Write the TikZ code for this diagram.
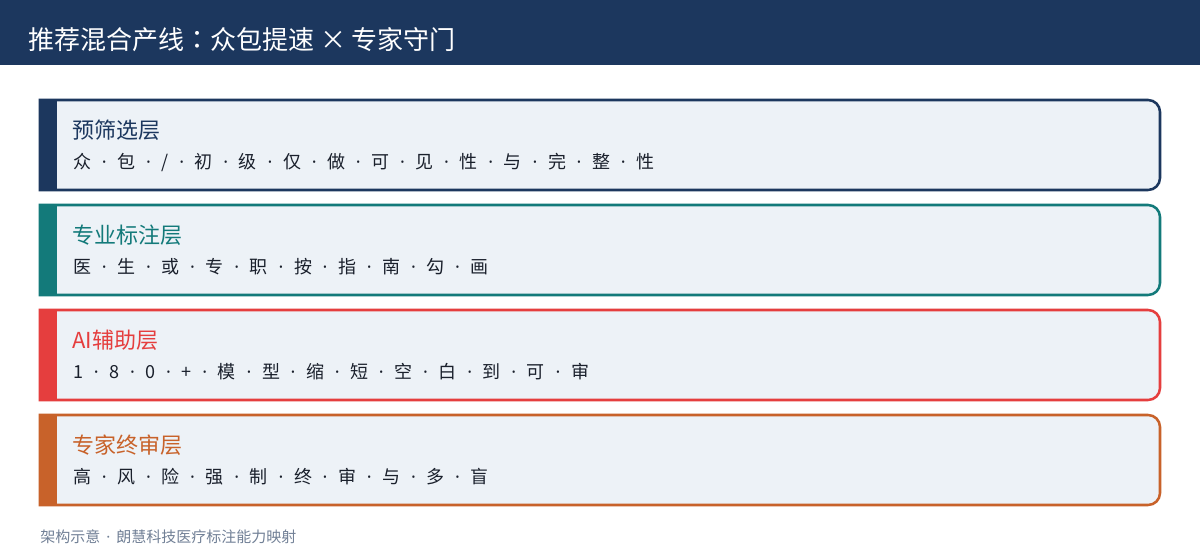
\documentclass[tikz,border=0pt]{standalone}
\usepackage{fontspec}
\setmainfont{Noto Sans CJK SC}
\newfontfamily\latinf{Noto Sans}
\newfontfamily\jpf{Noto Sans CJK JP}
\definecolor{navy}{HTML}{1C375E}
\definecolor{teal}{HTML}{137A7A}
\definecolor{redc}{HTML}{E53E3E}
\definecolor{orangec}{HTML}{C8622A}
\definecolor{boxfill}{HTML}{EDF2F7}
\definecolor{bodytext}{HTML}{1A202C}
\definecolor{foot}{HTML}{718096}
\newcommand\sd{\hspace{8pt}{\latinf ·}\hspace{8pt}}
\tikzset{
  layerhead/.style={anchor=west,inner sep=0pt,font=\fontsize{16.5pt}{18pt}\selectfont},
  layerbody/.style={anchor=west,inner sep=0pt,text=bodytext,font=\fontsize{13.5pt}{15pt}\selectfont},
  layerbox/.style={line width=1.9pt,fill=boxfill,draw=#1},
}
\newcommand\layer[2]{% #1 top y (y-up), #2 colour
  \draw[layerbox=#2] (40,#1) -- (1148,#1) arc(90:0:12) -- (1160,#1-78) arc(0:-90:12) -- (40,#1-90) -- cycle;
  \fill[#2] (40,#1+1.25) rectangle (57,#1-91.25);
}
\begin{document}
\begin{tikzpicture}[x=0.75pt,y=0.75pt]
\useasboundingbox (0,0) rectangle (1200,560);
\fill[white] (0,0) rectangle (1200,560);
\fill[navy] (0,495) rectangle (1200,560);
\node[anchor=west,inner sep=0pt,text=white,font=\fontsize{19.5pt}{22pt}\selectfont] (title) at (28,520) {推荐混合产线{\jpf ：}众包提速 × 专家守门};

\layer{460}{navy}
\node[layerhead,text=navy] (h1) at (72,430) {预筛选层};
\node[layerbody] (b1) at (73,398) {众\sd 包\sd /\sd 初\sd 级\sd 仅\sd 做\sd 可\sd 见\sd 性\sd 与\sd 完\sd 整\sd 性};

\layer{355}{teal}
\node[layerhead,text=teal] (h2) at (72,325) {专业标注层};
\node[layerbody] (b2) at (73,293) {医\sd 生\sd 或\sd 专\sd 职\sd 按\sd 指\sd 南\sd 勾\sd 画};

\layer{250}{redc}
\node[layerhead,text=redc] (h3) at (72,220) {AI辅助层};
\node[layerbody] (b3) at (73,188) {1\sd 8\sd 0\sd +\sd 模\sd 型\sd 缩\sd 短\sd 空\sd 白\sd 到\sd 可\sd 审};

\layer{145}{orangec}
\node[layerhead,text=orangec] (h4) at (72,115) {专家终审层};
\node[layerbody] (b4) at (73,83) {高\sd 风\sd 险\sd 强\sd 制\sd 终\sd 审\sd 与\sd 多\sd 盲};

\node[anchor=west,inner sep=0pt,text=foot,font=\fontsize{11.25pt}{13pt}\selectfont] (footer) at (40,23) {架构示意\hspace{4.5pt}{\latinf ·}\hspace{4.5pt}朗慧科技医疗标注能力映射};
\end{tikzpicture}
\end{document}
